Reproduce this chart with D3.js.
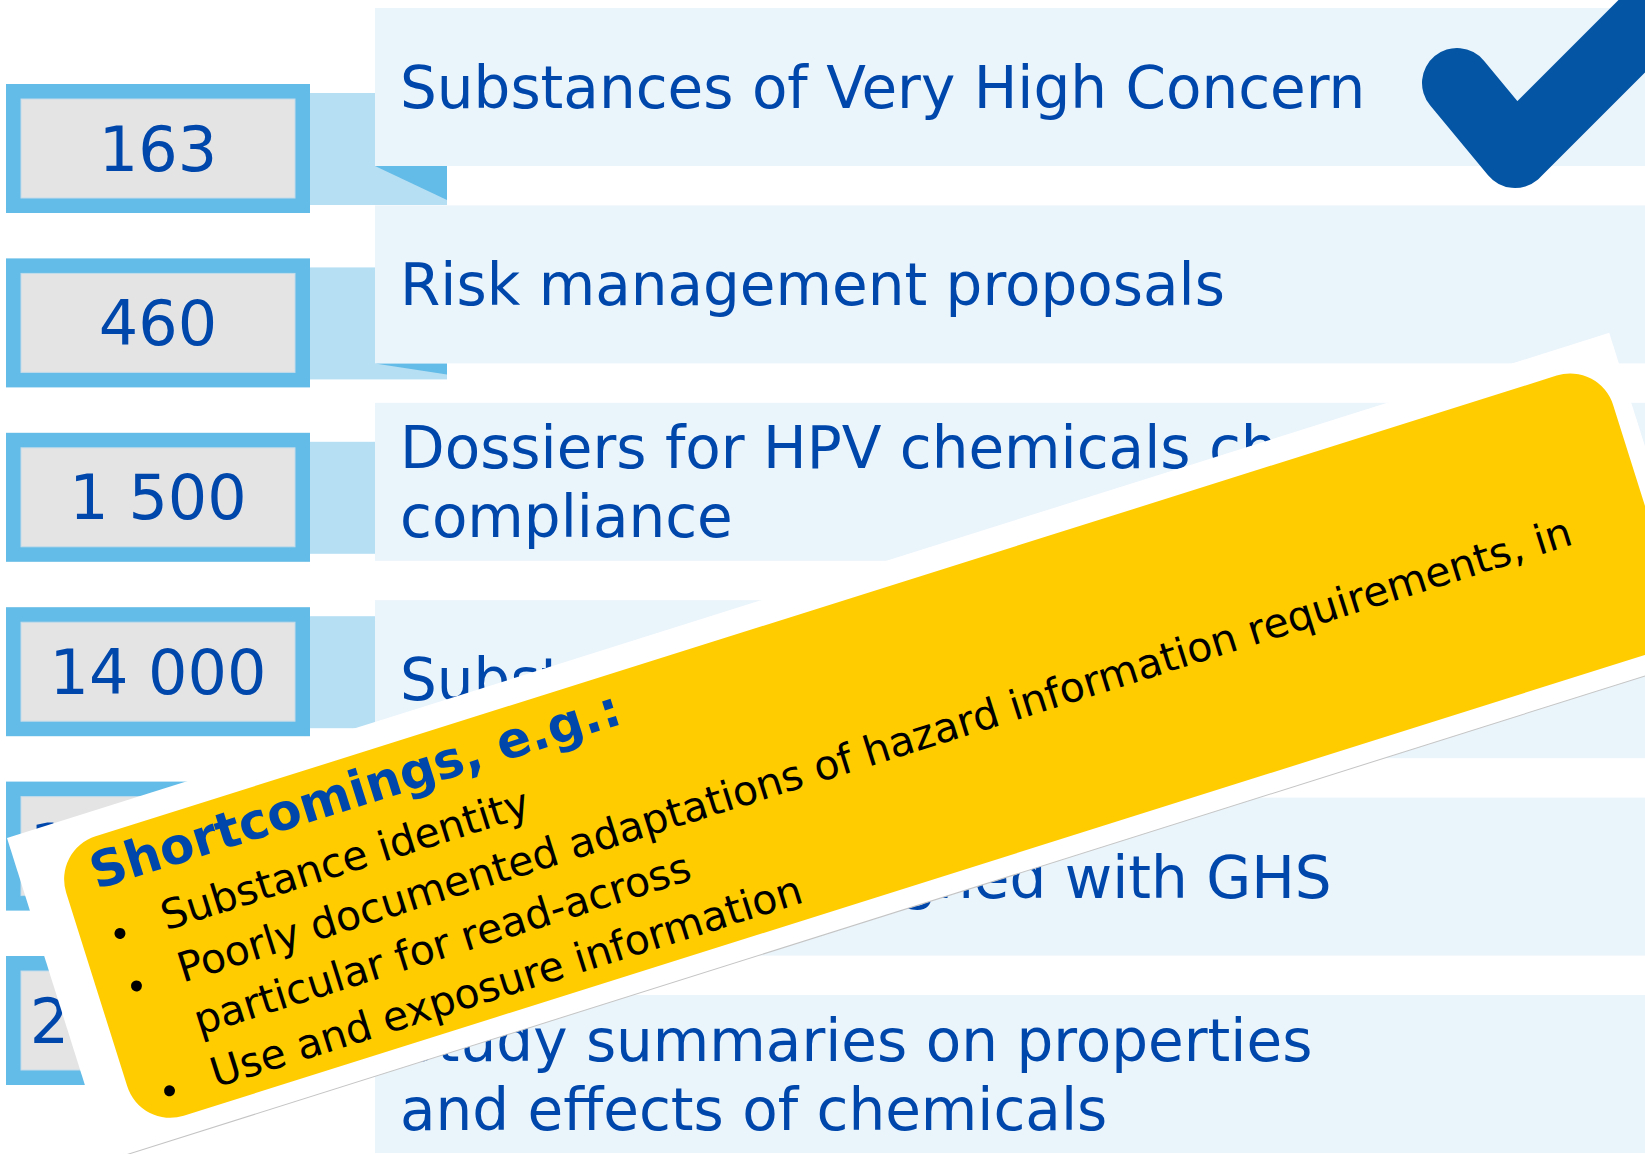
<!DOCTYPE html>
<html>
<head>
<meta charset="utf-8">
<script src="https://cdn.jsdelivr.net/npm/d3@7/dist/d3.min.js"></script>
<style>
  html, body { margin: 0; padding: 0; background: #fff; }
  svg { display: block; }
</style>
</head>
<body>
<div id="chart"></div>
<script>
// figures shown in the boxes on the left
var values = ["163", "460", "1 500", "14 000", "110 000", "200 000"];

// label in the light blue panel next to each figure (one entry per text line)
var labels = [
  ["Substances of Very High Concern"],
  ["Risk management proposals"],
  ["Dossiers for HPV chemicals checked for", "compliance"],
  ["Substances registered"],
  ["Classifications aligned with GHS"],
  ["Study summaries on properties", "and effects of chemicals"]
];

// which rows get the big tick mark
var checked = [true, false, false, false, false, false];

// the tilted yellow note
var noteTitle = "Shortcomings, e.g.:";
var noteItems = [
  ["Substance identity"],
  ["Poorly documented adaptations of hazard information requirements, in", "particular for read-across"],
  ["Use and exposure information"]
];

var width = 1645;
var height = 1154;

var blueText = "#0047ab";
var font = "'DejaVu Sans', Verdana, sans-serif";

var svg = d3.select("#chart").append("svg")
  .attr("width", width)
  .attr("height", height);

var rows = d3.range(values.length);

// rows are laid out top to bottom
var panelY = d3.scaleLinear().domain([0, values.length - 1]).range([8, 995]);
var boxY = d3.scaleLinear().domain([0, values.length - 1]).range([84, 956]);

var panelX = 375, panelH = 158;
var boxX = 6, boxW = 304, boxH = 129, border = 15;
var connX2 = 447;

var row = svg.selectAll("g.row")
  .data(rows)
  .enter()
  .append("g")
  .attr("class", "row");

// connector band between box and panel
row.append("rect")
  .attr("x", boxX + boxW)
  .attr("y", function(d) { return boxY(d) + 9; })
  .attr("width", connX2 - boxX - boxW)
  .attr("height", boxH - 17)
  .attr("fill", "#b6dff3");

// little folded corner under the panel
row.filter(function(d) { return boxY(d) + boxH - 8 > panelY(d) + panelH; })
  .append("path")
  .attr("d", function(d) {
    var y0 = panelY(d) + panelH, y1 = boxY(d) + boxH - 13;
    return "M" + panelX + "," + y0 + "L" + connX2 + "," + y0 + "L" + connX2 + "," + y1 + "Z";
  })
  .attr("fill", "#63bbe7");

// panel
row.append("rect")
  .attr("x", panelX)
  .attr("y", function(d) { return panelY(d); })
  .attr("width", width - panelX)
  .attr("height", panelH)
  .attr("fill", "#eaf4fb");

row.append("text")
  .attr("font-family", font)
  .attr("font-size", 58)
  .attr("fill", blueText)
  .selectAll("tspan")
  .data(function(d) {
    var n = labels[d].length;
    return labels[d].map(function(t, i) {
      return {t: t, y: panelY(d) + 100 + (i - (n - 1) / 2) * 69};
    });
  })
  .enter()
  .append("tspan")
  .attr("x", 400)
  .attr("y", function(l) { return l.y; })
  .text(function(l) { return l.t; });

// number box
row.append("rect")
  .attr("x", boxX)
  .attr("y", function(d) { return boxY(d); })
  .attr("width", boxW)
  .attr("height", boxH)
  .attr("fill", "#63bbe7");

row.append("rect")
  .attr("x", boxX + border)
  .attr("y", function(d) { return boxY(d) + border; })
  .attr("width", boxW - border * 2)
  .attr("height", boxH - border * 2)
  .attr("fill", "#e4e4e4")
  .attr("stroke", "#c3dcea")
  .attr("stroke-width", 1);

row.append("text")
  .attr("x", boxX + boxW / 2)
  .attr("y", function(d) { return boxY(d) + boxH / 2 + 22; })
  .attr("text-anchor", "middle")
  .attr("font-family", font)
  .attr("font-size", 62)
  .attr("fill", blueText)
  .text(function(d) { return values[d]; });

// tick mark, drawn relative to its panel
var tick = d3.line();
row.filter(function(d) { return checked[d]; })
  .append("path")
  .attr("transform", function(d) { return "translate(1457," + (panelY(d) + 75) + ")"; })
  .attr("d", tick([[0, 0], [58, 70], [240, -112]]))
  .attr("fill", "none")
  .attr("stroke", "#0455a4")
  .attr("stroke-width", 70)
  .attr("stroke-linecap", "round")
  .attr("stroke-linejoin", "round");

// tilted note card on top
var card = svg.append("g")
  .attr("transform", "translate(7,838) rotate(-17.5)");

card.append("rect")
  .attr("width", 1680)
  .attr("height", 338)
  .attr("fill", "#fff");

card.append("line")
  .attr("x1", 0).attr("x2", 1680)
  .attr("y1", 338).attr("y2", 338)
  .attr("stroke", "#c4c4c4")
  .attr("stroke-width", 1);

card.append("rect")
  .attr("x", 40)
  .attr("y", 25)
  .attr("width", 1622)
  .attr("height", 293)
  .attr("rx", 45)
  .attr("ry", 45)
  .attr("fill", "#ffcc00");

card.append("text")
  .attr("x", 70)
  .attr("y", 76)
  .attr("font-family", font)
  .attr("font-weight", "bold")
  .attr("font-size", 50)
  .attr("fill", blueText)
  .text(noteTitle);

// flatten the items into lines, bullet only on the first line of each
var noteLines = [];
noteItems.forEach(function(item) {
  item.forEach(function(t, i) {
    noteLines.push({t: t, bullet: i == 0});
  });
});

var lineY = function(i) { return 136 + i * 55; };

card.selectAll("circle.bullet")
  .data(noteLines.map(function(l, i) { return {i: i, bullet: l.bullet}; })
    .filter(function(l) { return l.bullet; }))
  .enter()
  .append("circle")
  .attr("class", "bullet")
  .attr("cx", 79)
  .attr("cy", function(l) { return lineY(l.i) - 11; })
  .attr("r", 5.5)
  .attr("fill", "#000");

card.selectAll("text.item")
  .data(noteLines)
  .enter()
  .append("text")
  .attr("class", "item")
  .attr("x", 124)
  .attr("y", function(l, i) { return lineY(i); })
  .attr("font-family", font)
  .attr("font-size", 41)
  .attr("fill", "#000")
  .text(function(l) { return l.t; });
</script>
</body>
</html>
